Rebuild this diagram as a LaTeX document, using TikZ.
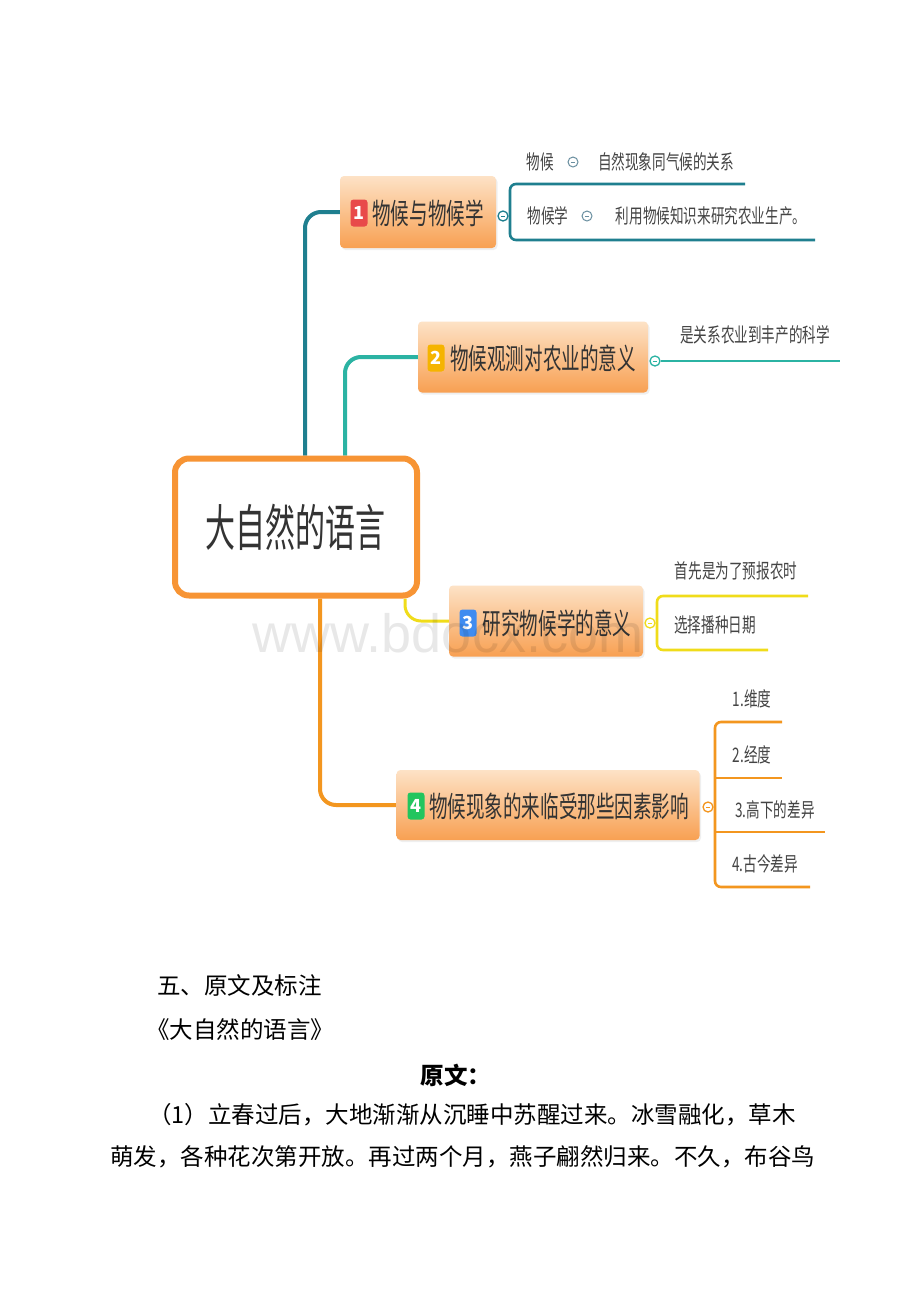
\documentclass[tikz,border=0pt]{standalone}
\usepackage{fontspec}
\usepackage{graphicx}
\setmainfont{Liberation Sans}
\newfontfamily\cjk{Noto Sans CJK SC}
\usetikzlibrary{backgrounds,shadows}
\definecolor{cOrange}{HTML}{F79434}
\definecolor{boxTop}{HTML}{FDE2C6}
\definecolor{boxBot}{HTML}{F8A052}
\definecolor{brA}{HTML}{1F7F8F}
\definecolor{brB}{HTML}{2BB3A3}
\definecolor{brC}{HTML}{F0DC1A}
\definecolor{brD}{HTML}{F3961F}
\definecolor{bullet}{HTML}{6A8FA0}
\definecolor{txt}{HTML}{333333}
\definecolor{leafTxt}{HTML}{444444}
\definecolor{bRed}{HTML}{E84A4A}
\definecolor{bYel}{HTML}{F5B400}
\definecolor{bBlue}{HTML}{3F8CF0}
\definecolor{bGreen}{HTML}{22C55E}
\newcommand{\topsq}[1]{\scalebox{0.64}[1]{#1}}
\newcommand{\leafsq}[1]{\scalebox{0.68}[1]{#1}}
\begin{document}
\begin{tikzpicture}[x=1pt,y=-1pt,
  topic/.style={rounded corners=4pt, top color=boxTop, bottom color=boxBot, inner sep=0pt, draw=none,
    drop shadow={opacity=0.12, shadow xshift=1.5pt, shadow yshift=-2pt}},
  ttext/.style={font=\cjk\fontsize{29}{29}\selectfont, text=txt, inner sep=0pt},
  ltext/.style={font=\cjk\fontsize{20}{20}\selectfont, text=leafTxt, inner sep=0pt},
  badge/.style={fill=#1, rounded corners=3pt, minimum width=17pt, minimum height=27pt, inner sep=0pt,
    text=white, font=\cjk\bfseries\fontsize{18}{18}\selectfont},
  coll/.style={circle, draw=#1, fill=white, line width=1.3pt, minimum size=10pt, inner sep=0pt,
    path picture={\draw[#1, line width=0.8pt] ([xshift=-2.2pt]path picture bounding box.center) -- ([xshift=2.2pt]path picture bounding box.center);}},
  conn/.style={line width=4pt, rounded corners=16pt},
  sub/.style={line width=2.6pt, rounded corners=6pt},
  para/.style={font=\cjk\fontsize{23.5}{23.5}\selectfont, text=black, inner sep=0pt, anchor=west}
]
\useasboundingbox (0,0) rectangle (920,1302);

% central topic
\node[draw=cOrange, line width=6pt, rounded corners=14pt, fill=white, minimum width=242pt, minimum height=137pt, inner sep=0pt] (c) at (296,527) {};
\node[font=\cjk\fontsize{50}{50}\selectfont, text=txt, inner sep=0pt] (ct) at (295,527) {\scalebox{0.6}[1]{大自然的语言}};

% main topics
\node[topic, minimum width=156pt, minimum height=72pt] (b1) at (418,212) {};
\node[badge=bRed] (g1) at (359,213) {1};
\node[ttext] (t1) at (428,213) {\topsq{物候与物候学}};

\node[topic, minimum width=230pt, minimum height=71pt] (b2) at (533,357) {};
\node[badge=bYel] (g2) at (436,358) {2};
\node[ttext] (t2) at (543,358) {\topsq{物候观测对农业的意义}};

\node[topic, minimum width=194pt, minimum height=71pt] (b3) at (546,621) {};
\node[badge=bBlue] (g3) at (468,623) {3};
\node[ttext] (t3) at (557,623) {\topsq{研究物候学的意义}};

\node[topic, minimum width=303pt, minimum height=70pt] (b4) at (548,805) {};
\node[badge=bGreen] (g4) at (416,806) {4};
\node[ttext] (t4) at (559,806) {\topsq{物候现象的来临受那些因素影响}};

% connectors from the centre
\begin{scope}[on background layer]
\fill[white] (0,0) rectangle (920,1302);
\draw[conn, brA] ([xshift=9pt]c.north) |- (b1.west);
\draw[conn, brB] ([xshift=49pt]c.north) |- (b2.west);
\draw[conn, brC, line width=3pt] ([xshift=109pt]c.south) |- (b3.west);
\draw[conn, brD] ([xshift=24pt]c.south) |- (b4.west);
\end{scope}

% ---- branch 1 children
\node[coll=brA] (k1) at (503,216) {};
\coordinate (a1) at (745,184);
\coordinate (a2) at (815,240);
\draw[sub, brA] (a1) -- (510,184) -- (510,240) -- (a2);
\node[ltext] (l11) at (540,162) {\leafsq{物候}};
\node[coll=bullet, line width=1pt] (s11) at (573,162) {};
\node[ltext] (l12) at (666,162) {\leafsq{自然现象同气候的关系}};
\node[ltext] (l21) at (548,216) {\leafsq{物候学}};
\node[coll=bullet, line width=1pt] (s21) at (587,216) {};
\node[ltext] (l22) at (711,216) {\leafsq{利用物候知识来研究农业生产。}};

% ---- branch 2 child
\node[coll=brB] (k2) at (655,361) {};
\coordinate (e2) at (840,361);
\draw[brB, line width=2pt] (k2.east) -- (e2);
\node[ltext] (l2) at (755,335) {\leafsq{是关系农业到丰产的科学}};

% ---- branch 3 children
\node[coll=brC] (k3) at (650,623) {};
\coordinate (c1) at (808,596);
\coordinate (c2) at (768,650);
\draw[sub, brC] (c1) -- (657,596) -- (657,650) -- (c2);
\node[ltext] (l31) at (736,571) {\leafsq{首先是为了预报农时}};
\node[ltext] (l32) at (715,625) {\leafsq{选择播种日期}};

% ---- branch 4 children
\node[coll=brD] (k4) at (708,807) {};
\coordinate (d1) at (782,722);
\coordinate (d2) at (782,778);
\coordinate (d3) at (825,832);
\coordinate (d4) at (810,887);
\draw[sub, brD] (d1) -- (715,722) -- (715,887) -- (d4);
\draw[brD, line width=2.6pt] (715,778) -- (d2);
\draw[brD, line width=2.6pt] (715,832) -- (d3);
\node[ltext] (l41) at (752,699) {\leafsq{1.维度}};
\node[ltext] (l42) at (752,755) {\leafsq{2.经度}};
\node[ltext] (l43) at (775,810) {\leafsq{3.高下的差异}};
\node[ltext] (l44) at (765,864) {\leafsq{4.古今差异}};

% ---- text below
\node[para] (h1) at (157,985) {五、原文及标注};
\node[para] (h2) at (146,1030) {《大自然的语言》};
\node[font=\cjk\bfseries\fontsize{23.5}{23.5}\selectfont, inner sep=0pt] (h3) at (456,1075) {原文：};
\node[para] (p1) at (148,1115) {（1）立春过后，大地渐渐从沉睡中苏醒过来。冰雪融化，草木};
\node[para] (p2) at (110,1157) {萌发，各种花次第开放。再过两个月，燕子翩然归来。不久，布谷鸟};

% watermark
\node[font=\fontsize{54}{54}\selectfont, text=black, text opacity=0.09, inner sep=0pt] (wm) at (448,633) {www.bdocx.com};
\end{tikzpicture}
\end{document}
